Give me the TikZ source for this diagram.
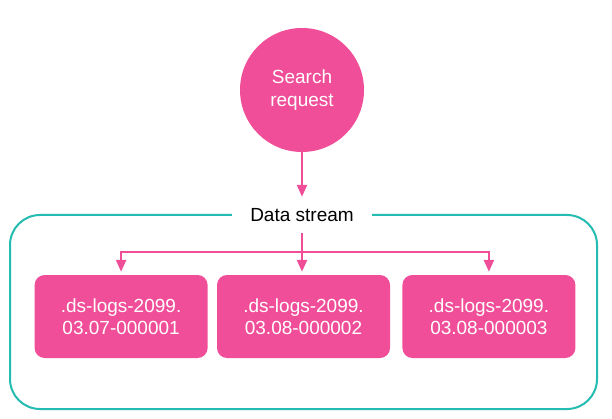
\documentclass[tikz,border=0pt]{standalone}
\usepackage{fontspec}
\setmainfont{Liberation Sans}
\usetikzlibrary{arrows.meta,positioning}
\definecolor{elpink}{RGB}{240,78,152}
\definecolor{elteal}{RGB}{36,187,177}

\begin{document}
\begin{tikzpicture}[
  x=1pt, y=-1pt, >={Triangle[length=12pt,width=10pt]},
  reqc/.style={circle,fill=elpink,text=white,align=center,inner sep=0pt,
    minimum size=124pt,font=\fontsize{19}{23}\selectfont},
  idxb/.style={rectangle,rounded corners=10pt,fill=elpink,text=white,align=center,
    minimum width=173pt,minimum height=83pt,font=\fontsize{19}{22.5}\selectfont},
  dsbox/.style={rectangle,rounded corners=30pt,draw=elteal,line width=2pt,
    minimum width=587pt,minimum height=194pt},
  dslab/.style={fill=white,inner xsep=18pt,minimum height=36pt,
    font=\fontsize{19}{23}\selectfont},
  arrow/.style={->,line width=2.4pt,color=elpink},
]
\useasboundingbox (0,0) rectangle (612,419);
\node[reqc] (req) at (302,90) {Search\\request};
\node[dsbox] (ds) at (303.5,312) {};
\node[dslab] (dslab) at (302,215) {Data stream};
\node[idxb] (idx2) at (303.5,316.5) {.ds-logs-2099.\\03.08-000002};
\node[idxb, left=9pt of idx2] (idx1) {.ds-logs-2099.\\03.07-000001};
\node[idxb, right=12pt of idx2] (idx3) {.ds-logs-2099.\\03.08-000003};
\coordinate (split) at (302,252);

\draw[arrow] (req) -- (dslab);
\draw[arrow,shorten >=3pt] (dslab.south) -- (dslab.south |- idx2.north);
\draw[arrow,shorten >=3pt] (split) -| (idx1);
\draw[arrow,shorten >=3pt] (split) -| (idx3);
\end{tikzpicture}
\end{document}
